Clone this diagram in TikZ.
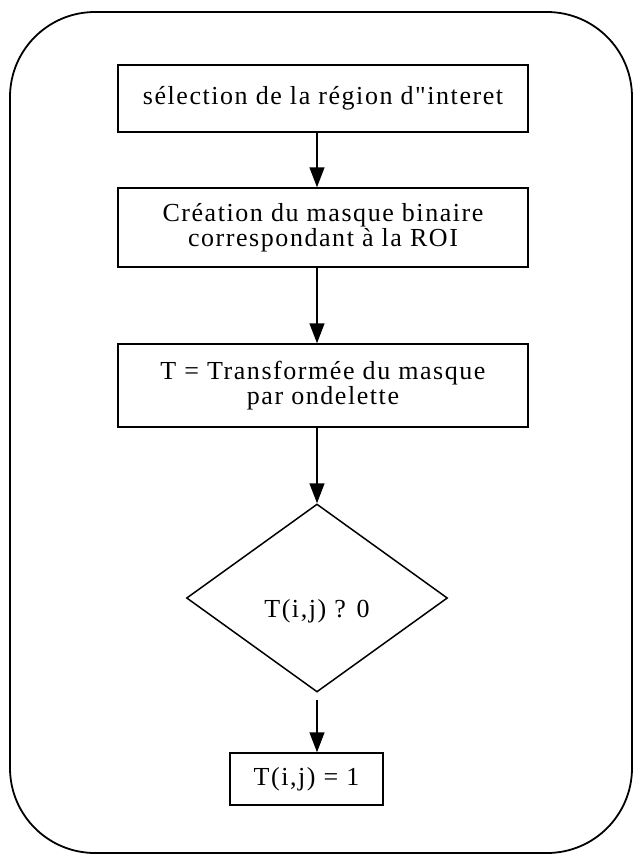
\documentclass[tikz,border=0pt]{standalone}
\usepackage{fontspec}
\newfontfamily\texte{Liberation Serif}[LetterSpace=6]
\usetikzlibrary{shapes.geometric, arrows.meta}

\begin{document}
\begin{tikzpicture}[x=1pt, y=-1pt,
    boite/.style={draw, line width=1.5pt, minimum width=410pt, align=center,
        inner sep=2pt, font=\texte\fontsize{26}{23}\selectfont},
    decision/.style={draw, diamond, line width=1.5pt, aspect=1.39, minimum width=261pt,
        minimum height=188pt, inner sep=0pt, font=\texte\fontsize{26}{23}\selectfont},
    fleche/.style={-{Triangle[length=20pt, width=15pt]}, line width=1.5pt}]
    \useasboundingbox (0,0) rectangle (634,855);

    % Cadre arrondi autour de l'organigramme
    \draw[line width=1.8pt, rounded corners=85pt] (10,12) rectangle (632,853);

    % Etapes de traitement
    \node[boite, minimum height=67pt] (selection) at (323,98.5) {sélection de la région d"interet};
    \node[boite, minimum height=79pt] (masque) at (323,227.5) {Création du masque binaire\\correspondant à la ROI};
    \node[boite, minimum height=83pt] (transfo) at (323,385.5) {T = Transformée du masque\\par ondelette};

    % Test sur les coefficients
    \node[decision] (test) at (317,598) {\raisebox{-19pt}[0pt][0pt]{T(i,j) ? 0}};
    \node[boite, minimum width=153pt, minimum height=52pt] (resultat) at (306.5,779) {T(i,j) = 1};

    % Fleches
    \draw[fleche] (selection.south -| test.north) -- (masque.north -| test.north);
    \draw[fleche] (masque.south -| test.north) -- (transfo.north -| test.north);
    \draw[fleche] (transfo.south -| test.north) -- (test.north);
    \draw[fleche, shorten <=7pt] (test.south) -- (resultat.north -| test.south);
\end{tikzpicture}
\end{document}
